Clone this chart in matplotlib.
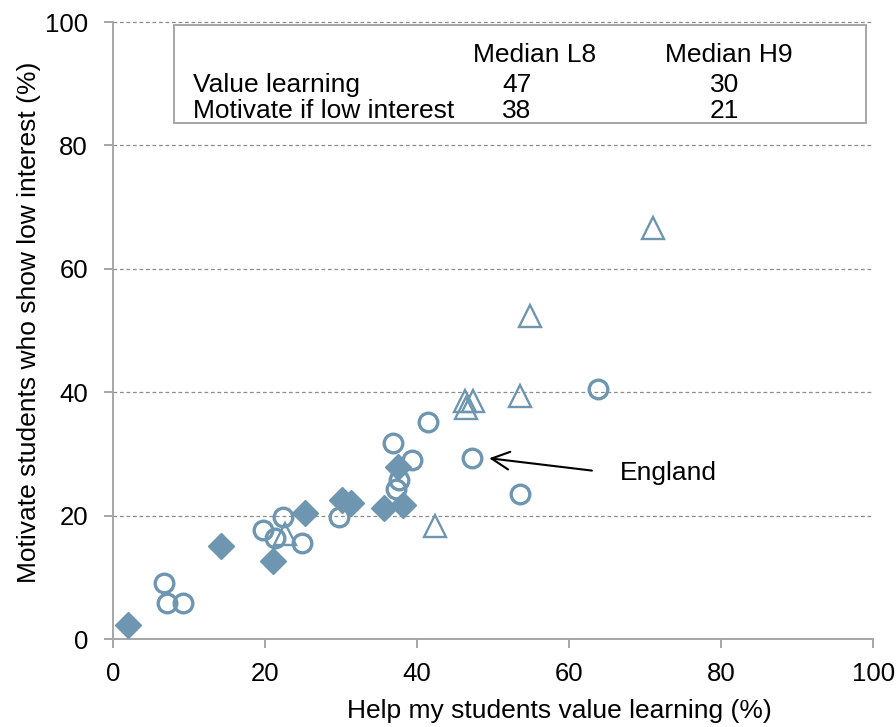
import matplotlib
matplotlib.use("Agg")
import matplotlib.pyplot as plt
from matplotlib.patches import Rectangle

plt.rcParams['font.family'] = ['Liberation Sans', 'DejaVu Sans']

# Diamonds (filled) - H9 group
h9_x = [2.05, 14.2, 21.1, 25.3, 30.2, 31.3, 35.7, 38.1, 37.5]
h9_y = [2.3, 15.1, 12.7, 20.5, 22.5, 22.0, 21.3, 21.7, 27.9]

# Open circles - other systems
oth_x = [6.8, 7.1, 9.3, 19.7, 21.4, 22.4, 24.9, 29.7, 36.9, 39.3, 37.6, 37.2, 41.4, 47.2, 53.6, 63.8]
oth_y = [9.1, 5.9, 5.9, 17.7, 16.3, 19.7, 15.6, 19.7, 31.7, 29.0, 25.8, 24.3, 35.2, 29.3, 23.5, 40.6]

# Open triangles - L8 group
l8_x = [22.7, 42.4, 46.3, 47.4, 46.4, 53.6, 54.8, 71.0]
l8_y = [17.1, 18.3, 38.5, 38.5, 37.4, 39.4, 52.4, 66.6]

x_ticks = [0, 20, 40, 60, 80, 100]
y_ticks = [0, 20, 40, 60, 80, 100]

table_cols = ["Median L8", "Median H9"]
table_rows = ["Value learning", "Motivate if low interest"]
table_l8 = [47, 38]
table_h9 = [30, 21]

col = '#6e96b0'
grey = '#a6a6a6'

fig = plt.figure(figsize=(8.96, 7.27), dpi=100)
ax = fig.add_axes([0.1258, 0.1210, 0.8489, 0.8487])

ax.set_xlim(0, 100)
ax.set_ylim(0, 100)
ax.set_xticks(x_ticks)
ax.set_yticks(y_ticks)

for y in y_ticks[1:]:
    ax.axhline(y, color='#8c8c8c', lw=0.9, linestyle=(0, (3.0, 2.2)), zorder=1, clip_on=False)

ax.plot(oth_x, oth_y, linestyle='none', marker='o', markersize=13.4,
        markerfacecolor='none', markeredgecolor=col, markeredgewidth=2.4, zorder=3)
ax.plot(h9_x, h9_y, linestyle='none', marker='D', markersize=13.5,
        markerfacecolor=col, markeredgecolor=col, markeredgewidth=1.0, zorder=4)
ax.plot(l8_x, l8_y, linestyle='none', marker='^', markersize=15.5,
        markerfacecolor='none', markeredgecolor=col, markeredgewidth=1.7, zorder=5)

for s in ['top', 'right']:
    ax.spines[s].set_visible(False)
for s in ['left', 'bottom']:
    ax.spines[s].set_color(grey)
    ax.spines[s].set_linewidth(1.4)

ax.tick_params(axis='both', colors=grey, length=6.3, width=1.4, labelsize=18.5,
               labelcolor='black', direction='out')
ax.tick_params(axis='x', pad=10.5)
ax.tick_params(axis='y', pad=11.5)

ax.set_xlabel("Help my students value learning (%)", fontsize=19, va='center', ha='center')
ax.xaxis.set_label_coords(0.5868, -0.1167)
ax.set_ylabel("Motivate students who show low interest (%)", fontsize=19, va='center', ha='center')
ax.yaxis.set_label_coords(-0.1105, 0.513)

# summary box
ax.add_patch(Rectangle((0.0806, 0.8363), 0.9904 - 0.0806, 0.9951 - 0.8363,
                       transform=ax.transAxes, facecolor='white', edgecolor=grey,
                       lw=1.4, zorder=6))
ax.text(55.5, 93.6, table_cols[0], ha='center', va='baseline', fontsize=19, zorder=7)
ax.text(81.0, 93.6, table_cols[1], ha='center', va='baseline', fontsize=19, zorder=7)
row_y = [88.7, 84.4]
for i, r in enumerate(table_rows):
    ax.text(10.6, row_y[i], r, ha='left', va='baseline', fontsize=19, zorder=7)
    ax.text(53.1, row_y[i], str(table_l8[i]), ha='center', va='baseline', fontsize=19, zorder=7)
    ax.text(80.4, row_y[i], str(table_h9[i]), ha='center', va='baseline', fontsize=19, zorder=7)

ax.annotate("", xy=(49.5, 29.3), xytext=(63.0, 27.3),
            arrowprops=dict(arrowstyle='->', color='black', lw=1.5,
                            mutation_scale=32, shrinkA=0, shrinkB=0), zorder=7)
ax.text(66.7, 25.8, "England", ha='left', va='baseline', fontsize=19)

fig.savefig("out.png", dpi=100)
